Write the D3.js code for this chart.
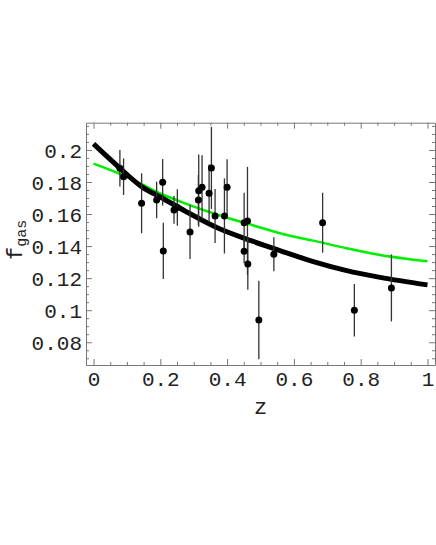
<!DOCTYPE html>
<html>
<head>
<meta charset="utf-8">
<script src="https://cdn.jsdelivr.net/npm/d3@7"></script>
<style>
  body { margin: 0; background: #fff; }
  text { font-family: "Liberation Mono", "DejaVu Sans Mono", monospace; fill: #222; }
</style>
</head>
<body>
<div id="chart"></div>
<script>
// Cluster data: redshift, gas fraction, error
const z = [0.079, 0.090, 0.144, 0.189, 0.207, 0.209, 0.241, 0.251, 0.289, 0.314, 0.315, 0.325, 0.346,
  0.353, 0.364, 0.392, 0.400, 0.451, 0.461, 0.451, 0.462, 0.495, 0.540, 0.686, 0.781, 0.892];
const fgas = [0.1886, 0.1833, 0.1667, 0.1688, 0.1798, 0.1370, 0.1626, 0.1641, 0.1488, 0.1688, 0.1746, 0.1767, 0.1729,
  0.1888, 0.1588, 0.1588, 0.1767, 0.1546, 0.1557, 0.1368, 0.1289, 0.0939, 0.1349, 0.1546, 0.1000, 0.1139];
const fgasErr = [0.0114, 0.0114, 0.0187, 0.0114, 0.0145, 0.0175, 0.0087, 0.0114, 0.0168, 0.0156, 0.0225, 0.0200, 0.0180,
  0.0256, 0.0168, 0.0234, 0.0175, 0.0187, 0.0337, 0.0075, 0.0162, 0.0245, 0.0106, 0.0187, 0.0164, 0.0209];

// Model curves
const curveZ = [0, 0.074, 0.144, 0.204, 0.274, 0.374, 0.474, 0.558, 0.658, 0.758, 0.858, 1.0];
const blackCurve = [0.2038, 0.1896, 0.1771, 0.1702, 0.1619, 0.1511, 0.1432, 0.1372, 0.1303, 0.1247, 0.1205, 0.1158];
const greenCurve = [0.1915, 0.1855, 0.1786, 0.1725, 0.1667, 0.1594, 0.1532, 0.1480, 0.1434, 0.1387, 0.1345, 0.1305];

// Tick labels
const xTicks = [0, 0.2, 0.4, 0.6, 0.8, 1];
const xTickLabels = ['0', '0.2', '0.4', '0.6', '0.8', '1'];
const yTicks = [0.08, 0.1, 0.12, 0.14, 0.16, 0.18, 0.2];
const yTickLabels = ['0.08', '0.1', '0.12', '0.14', '0.16', '0.18', '0.2'];

const W = 436, H = 545;
const frameLeft = 86, frameRight = 435, frameTop = 122.7, frameBottom = 365;

const svg = d3.select('#chart').append('svg')
  .attr('width', W)
  .attr('height', H);

const x = d3.scaleLinear().domain([-0.0225, 1.0225]).range([frameLeft, frameRight]);
const y = d3.scaleLinear().domain([0.0658, 0.2170]).range([frameBottom, frameTop]);

// Minor tick values
const xMinor = d3.range(0, 21).map(i => i * 0.05).filter(v => !xTicks.some(t => Math.abs(t - v) < 1e-9));
const yMinor = d3.range(14, 44).map(i => i * 0.005).filter(v => !yTicks.some(t => Math.abs(t - v) < 1e-9));

// Frame with inward ticks on all sides
function frameAxis(axisFn, scale, major, minor, transform, labels) {
  const gMinor = svg.append('g')
    .attr('transform', transform)
    .call(axisFn(scale).tickValues(minor).tickSize(-3).tickFormat(''));
  gMinor.select('.domain').remove();
  gMinor.selectAll('line').attr('stroke', '#777');
  const g = svg.append('g')
    .attr('transform', transform)
    .call(axisFn(scale).tickValues(major).tickSize(-6).tickSizeOuter(0)
      .tickFormat(labels ? (d, i) => labels[i] : ''));
  g.select('.domain').attr('stroke', '#777');
  g.selectAll('line').attr('stroke', '#777');
  return g;
}

const gx = frameAxis(d3.axisBottom, x, xTicks, xMinor, `translate(0,${frameBottom})`, xTickLabels);
frameAxis(d3.axisTop, x, xTicks, xMinor, `translate(0,${frameTop})`, null);
const gy = frameAxis(d3.axisLeft, y, yTicks, yMinor, `translate(${frameLeft},0)`, yTickLabels);
frameAxis(d3.axisRight, y, yTicks, yMinor, `translate(${frameRight},0)`, null);

gx.selectAll('text')
  .attr('font-size', 21)
  .attr('font-family', '"Liberation Mono", monospace')
  .attr('fill', '#222')
  .attr('dy', null)
  .attr('y', 21);
gy.selectAll('text')
  .attr('font-size', 21)
  .attr('font-family', '"Liberation Mono", monospace')
  .attr('fill', '#222')
  .attr('x', -4)
  .attr('dy', '0.35em');

// Curves
const line = d3.line()
  .x(d => x(d[0]))
  .y(d => y(d[1]))
  .curve(d3.curveMonotoneX);

svg.append('path')
  .datum(curveZ.map((v, i) => [v, greenCurve[i]]))
  .attr('fill', 'none')
  .attr('stroke', '#00ee00')
  .attr('stroke-width', 2.5)
  .attr('d', line);

svg.append('path')
  .datum(curveZ.map((v, i) => [v, blackCurve[i]]))
  .attr('fill', 'none')
  .attr('stroke', '#000')
  .attr('stroke-width', 5)
  .attr('d', line);

// Error bars and points
const points = z.map((v, i) => ({ z: v, f: fgas[i], e: fgasErr[i] }));

svg.selectAll('.err')
  .data(points)
  .enter()
  .append('line')
  .attr('class', 'err')
  .attr('x1', d => x(d.z))
  .attr('x2', d => x(d.z))
  .attr('y1', d => y(d.f - d.e))
  .attr('y2', d => y(d.f + d.e))
  .attr('stroke', '#333')
  .attr('stroke-width', 1.3);

svg.selectAll('.pt')
  .data(points)
  .enter()
  .append('circle')
  .attr('class', 'pt')
  .attr('cx', d => x(d.z))
  .attr('cy', d => y(d.f))
  .attr('r', 3.5)
  .attr('fill', '#000');

// Axis titles
svg.append('text')
  .attr('x', x(0.5))
  .attr('y', 414)
  .attr('text-anchor', 'middle')
  .attr('font-size', 22)
  .text('z');

const yTitle = svg.append('text')
  .attr('transform', `translate(22,${(frameTop + frameBottom) / 2 - 4}) rotate(-90)`)
  .attr('text-anchor', 'middle')
  .attr('font-size', 22);
yTitle.append('tspan').text('f');
yTitle.append('tspan').attr('font-size', 15).attr('dy', 4).text('gas');
</script>
</body>
</html>
